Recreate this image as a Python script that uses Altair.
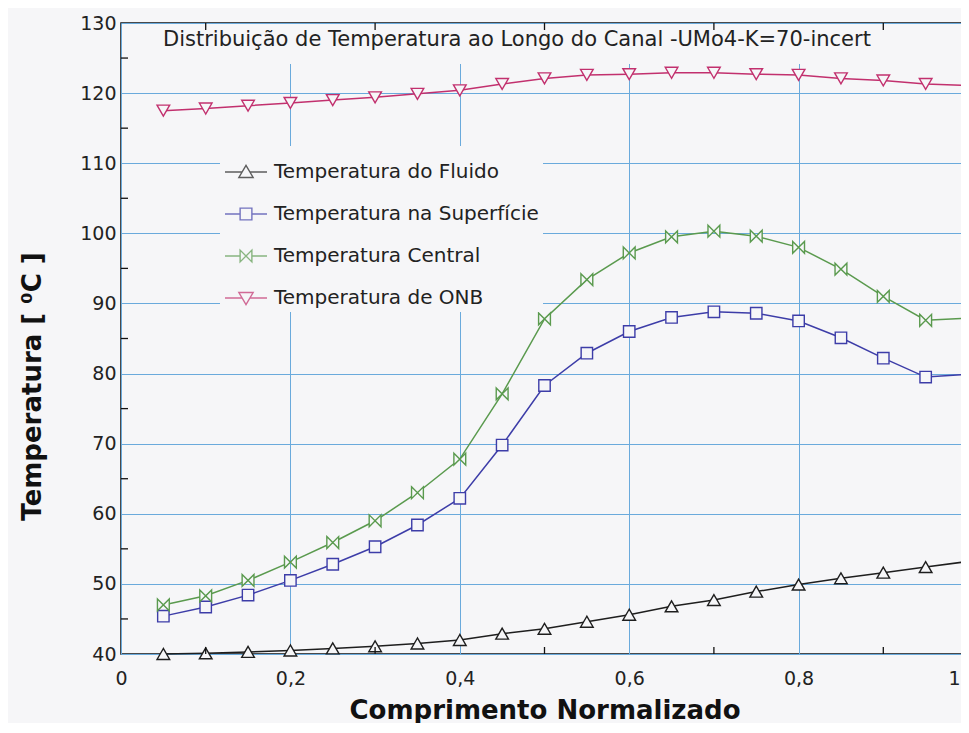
import altair as alt
import pandas as pd

# ---- data ----
X = [0.05, 0.10, 0.15, 0.20, 0.25, 0.30, 0.35, 0.40, 0.45, 0.50,
     0.55, 0.60, 0.65, 0.70, 0.75, 0.80, 0.85, 0.90, 0.95, 1.00]

fluido = [40.0, 40.1, 40.3, 40.5, 40.8, 41.1, 41.5, 42.0, 42.9, 43.6,
          44.6, 45.6, 46.8, 47.7, 48.9, 49.9, 50.8, 51.6, 52.4, 53.2]
superficie = [45.4, 46.7, 48.4, 50.5, 52.8, 55.3, 58.4, 62.2, 69.8, 78.3,
              82.9, 86.0, 88.0, 88.8, 88.6, 87.5, 85.1, 82.2, 79.5, 79.9]
central = [47.0, 48.3, 50.5, 53.1, 55.9, 59.0, 63.0, 67.8, 77.1, 87.8,
           93.4, 97.2, 99.5, 100.3, 99.6, 98.0, 94.9, 91.0, 87.6, 87.9]
onb = [117.5, 117.8, 118.2, 118.6, 119.0, 119.4, 119.9, 120.4, 121.3, 122.1,
       122.6, 122.7, 122.9, 122.9, 122.7, 122.6, 122.1, 121.8, 121.3, 121.1]

names = ["Temperatura do Fluido", "Temperatura na Superfície",
         "Temperatura Central", "Temperatura de ONB"]
colors = ["#1e1e1e", "#3d3da8", "#5a9a4e", "#c2306e"]

x_ticks = [0, 0.2, 0.4, 0.6, 0.8, 1]
y_ticks = [40, 50, 60, 70, 80, 90, 100, 110, 120, 130]
x_minor = [0.1, 0.3, 0.5, 0.7, 0.9]
y_minor = [45, 55, 65, 75, 85, 95, 105, 115, 125]

title_text = "Distribuição de Temperatura ao Longo do Canal -UMo4-K=70-incert"

# ---- styles ----
W, H = 847, 631
BG = "#f6f6f8"
GRID = "#6aaadc"
FONT = "DejaVu Sans"
BOWTIE = "M-1,-1L1,1L1,-1L-1,1Z"
point_shapes = ["triangle-up", "square", BOWTIE, "triangle-down"]
point_sizes = [160, 130, 140, 160]

legend_paths = [
    "M-1,0L-0.19,0M0.19,0L1,0M0,-0.32L0.34,0.26L-0.34,0.26Z",
    "M-1,0L-0.28,0M0.28,0L1,0M-0.28,-0.28L0.28,-0.28L0.28,0.28L-0.28,0.28Z",
    "M-1,0L-0.28,0M0.28,0L1,0M-0.28,-0.28L0.28,0.28L0.28,-0.28L-0.28,0.28Z",
    "M-1,0L-0.19,0M0.19,0L1,0M0,0.32L0.34,-0.26L-0.34,-0.26Z",
]

rows = []
for name, vals in zip(names, [fluido, superficie, central, onb]):
    for x, v in zip(X, vals):
        rows.append({"serie": name, "x": x, "t": v})
df = pd.DataFrame(rows)

xscale = alt.Scale(domain=[0, 1], nice=False, zero=False)
yscale = alt.Scale(domain=[40, 130], nice=False, zero=False)

xaxis = alt.Axis(
    values=x_ticks, labelExpr="replace(format(datum.value, '~g'), '.', ',')",
    labelAlign={"condition": {"test": "datum.value == 1", "value": "right"}, "value": "center"},
    labelOffset={"condition": {"test": "datum.value == 1", "value": -8}, "value": 0},
    grid=True, gridColor=GRID, gridWidth=1, ticks=False, domain=False,
    labelFont=FONT, labelFontSize=19, labelColor="#222", labelPadding=15,
    title="Comprimento Normalizado", titleFont=FONT, titleFontSize=26,
    titleFontWeight="bold", titleColor="#111", titleY=64, titleBaseline="alphabetic",
)
yaxis = alt.Axis(
    values=y_ticks, grid=True, gridColor=GRID, gridWidth=1, ticks=False, domain=False,
    labelFont=FONT, labelFontSize=19, labelColor="#222", labelPadding=5,
    title="Temperatura [ ⁰C ]", titleFont=FONT, titleFontSize=26,
    titleFontWeight="bold", titleColor="#111", titleX=-81, titleY=363,
    titleBaseline="alphabetic", titleAlign="center",
)

base = alt.Chart(df)

# invisible carrier of the axes (first layer)
axes_layer = base.mark_point(opacity=0, size=1).encode(
    x=alt.X("x:Q", scale=xscale, axis=xaxis),
    y=alt.Y("t:Q", scale=yscale, axis=yaxis),
)

# blank strip behind the in-plot title (the grid stops below it)
title_strip = base.mark_rect(fill=BG, opacity=1).encode(
    x=alt.value(1), x2=alt.value(W - 1), y=alt.value(1), y2=alt.value(41)
)

layers = [axes_layer, title_strip]
for name, col, shp, sz in zip(names, colors, point_shapes, point_sizes):
    sub = base.transform_filter(alt.datum.serie == name)
    layers.append(
        sub.mark_line(stroke=col, strokeWidth=1.5).encode(x="x:Q", y="t:Q")
    )
    layers.append(
        sub.transform_filter(alt.datum.x < 1)
        .mark_point(shape=shp, size=sz, fill=BG, fillOpacity=1, stroke=col,
                    strokeWidth=1.4, opacity=1)
        .encode(x="x:Q", y="t:Q")
    )

leg = alt.Legend(
    orient="none", legendX=99, legendY=123, title=None,
    labelFont=FONT, labelFontSize=20, labelColor="#222", labelOffset=6,
    symbolSize=1764, symbolStrokeWidth=1.4, rowPadding=10, padding=4,
    labelLimit=400, fillColor=BG,
)
legend_layer = base.transform_filter("false").mark_point(filled=False, strokeWidth=1.4).encode(
    x="x:Q", y="t:Q",
    color=alt.Color("serie:N", scale=alt.Scale(domain=names, range=colors), legend=leg),
    shape=alt.Shape("serie:N", scale=alt.Scale(domain=names, range=legend_paths), legend=leg),
)
layers.append(legend_layer)

# minor ticks pointing inwards on all four sides
xm_df = pd.DataFrame({"x": x_minor})
ym_df = pd.DataFrame({"t": y_minor})
for y0, y1 in [(H, H - 7), (0, 7)]:
    layers.append(alt.Chart(xm_df).mark_rule(color="#111", strokeWidth=1.3).encode(
        x="x:Q", y=alt.value(y0), y2=alt.value(y1)))
for x0, x1 in [(0, 7), (W, W - 7)]:
    layers.append(alt.Chart(ym_df).mark_rule(color="#111", strokeWidth=1.3).encode(
        y="t:Q", x=alt.value(x0), x2=alt.value(x1)))

chart = alt.layer(*layers).properties(
    width=W, height=H,
    autosize="none",
    padding={"left": 113, "top": 15, "right": -7, "bottom": 69},
    background=BG,
    title=alt.TitleParams(
        text=title_text, anchor="start", frame="group", dx=42, offset=-36,
        baseline="top", font=FONT, fontSize=21, fontWeight="normal", color="#222",
    ),
).configure_view(stroke="#111", strokeWidth=1.5, fill=BG)

chart.save("out.html", embed_options={"renderer": "svg", "actions": False})
